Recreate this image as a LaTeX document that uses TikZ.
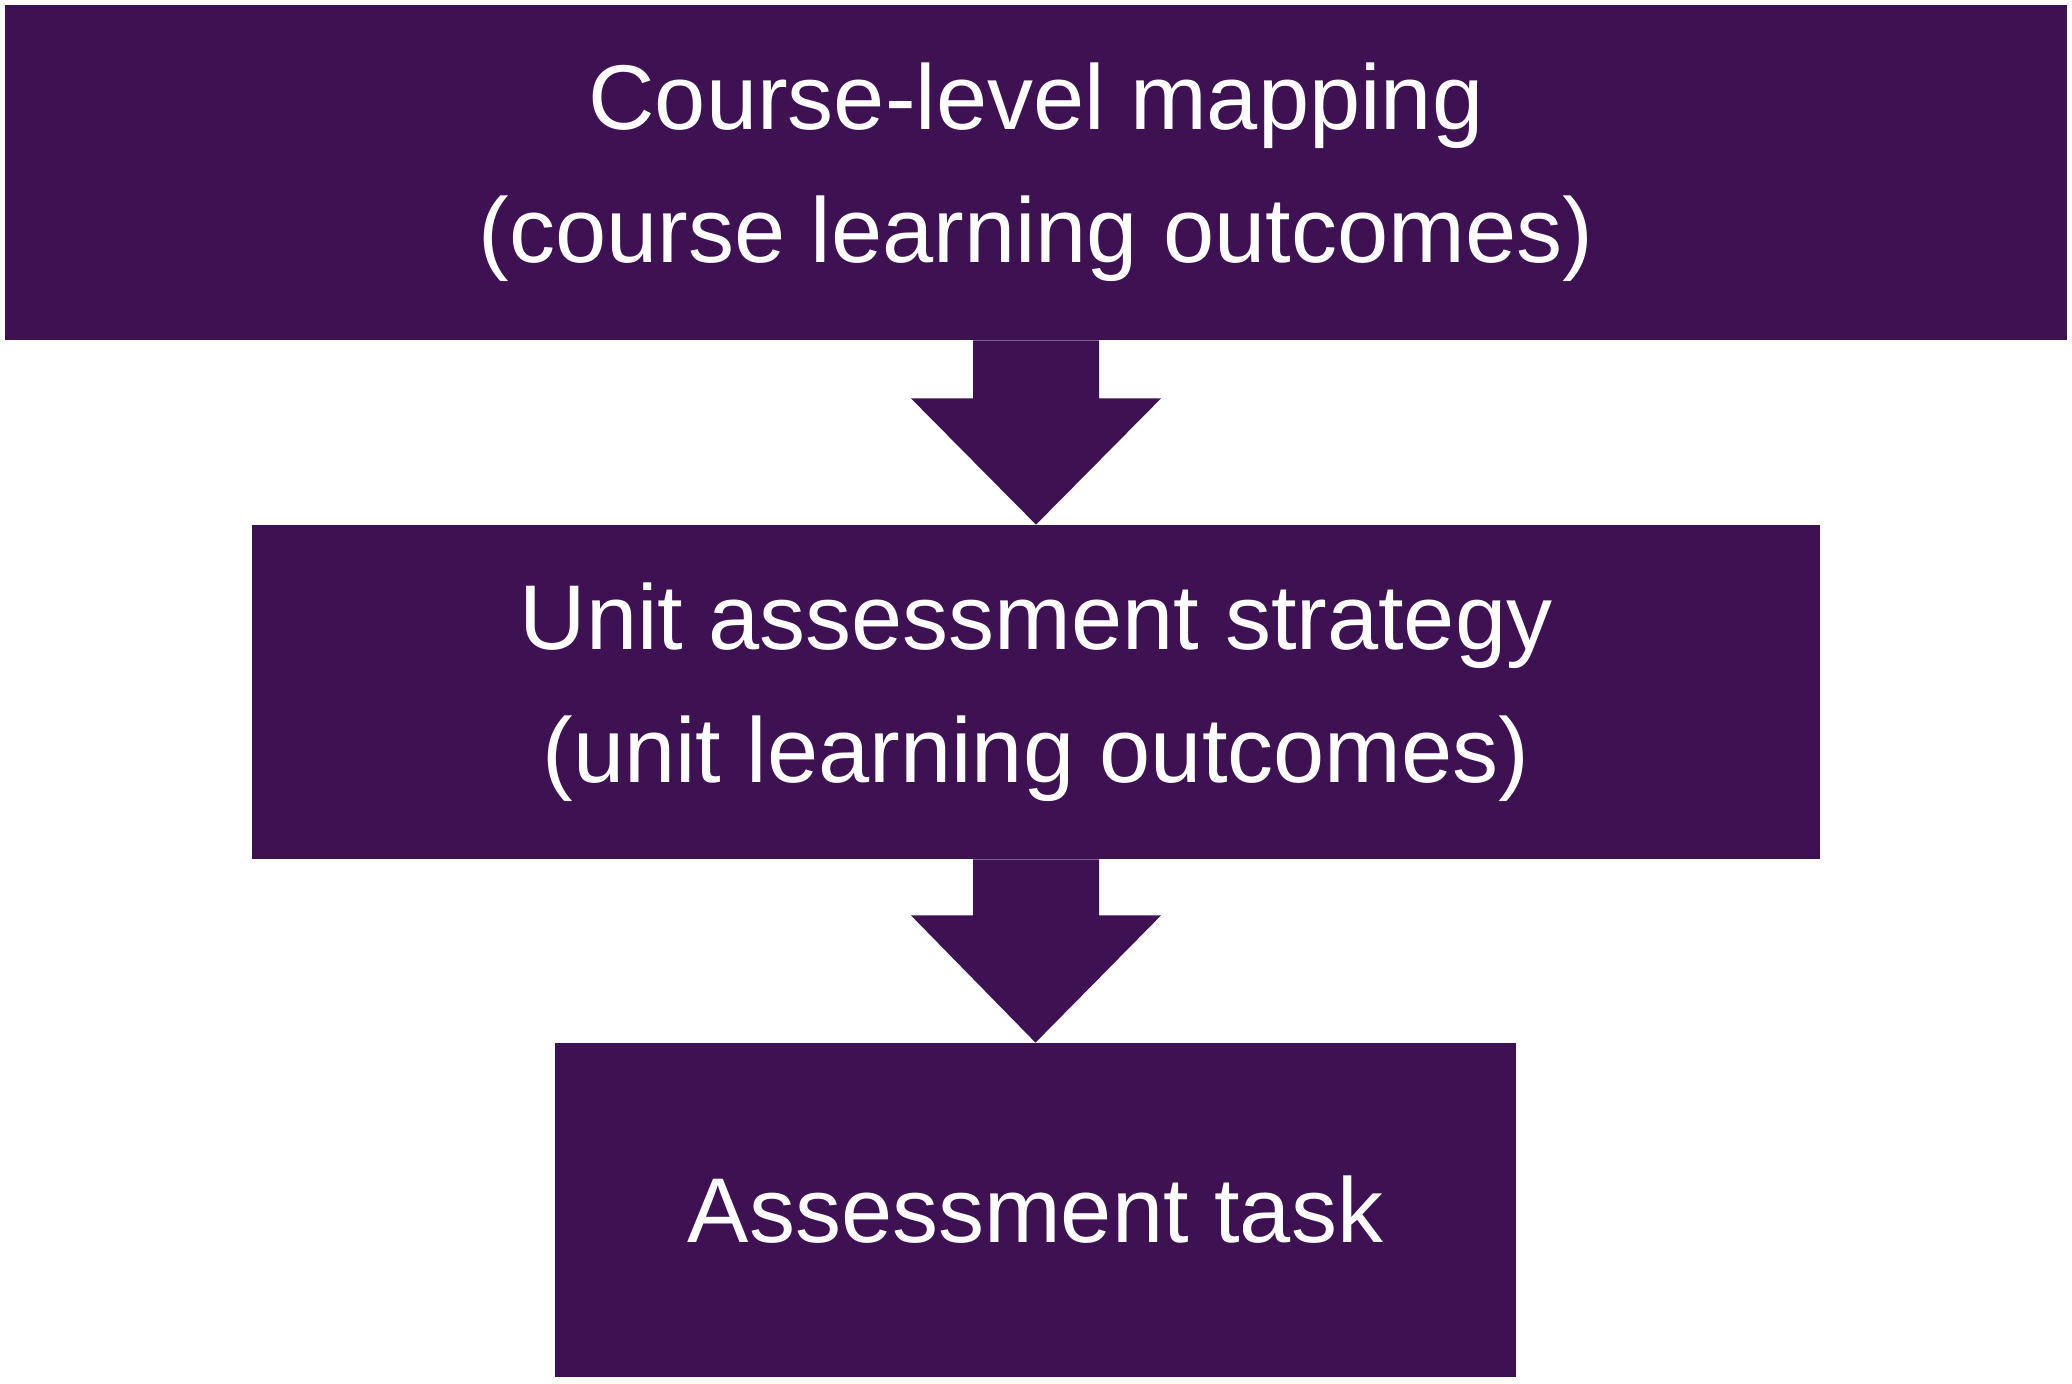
\documentclass[tikz,border=0pt]{standalone}
\usepackage{fontspec}
\setmainfont{Liberation Sans}
\usetikzlibrary{calc}
\definecolor{deeppurple}{RGB}{61,17,82}

\begin{document}
\begin{tikzpicture}[x=0.5pt,y=-0.5pt,
        stage/.style={rectangle,fill=deeppurple,text=white,align=center,inner sep=0pt,
            font=\fontsize{46}{66.5}\selectfont},
        flowarrow/.style={fill=deeppurple}]
        \useasboundingbox (0,0) rectangle (2072,1383);

        \node (course) at (1036,172.5) [stage,minimum width=1031pt,minimum height=167.5pt] {Course-level mapping\\(course learning outcomes)};
        \node (unit) at (1036,692) [stage,minimum width=784pt,minimum height=167pt] {Unit assessment strategy\\(unit learning outcomes)};
        \node (task) at (1035.5,1210) [stage,minimum width=480.5pt,minimum height=167pt] {Assessment task};

        \fill[flowarrow] ($(course.south)+(-63,0)$) -- ++(0,58) -- ++(-62,0) -- (unit.north) -- ($(course.south)+(125,58)$) -- ++(-62,0) -- ++(0,-58) -- cycle;
        \fill[flowarrow] ($(unit.south)+(-63,0)$) -- ++(0,56) -- ++(-62,0) -- (task.north) -- ($(unit.south)+(125,56)$) -- ++(-62,0) -- ++(0,-56) -- cycle;
    \end{tikzpicture}
\end{document}
